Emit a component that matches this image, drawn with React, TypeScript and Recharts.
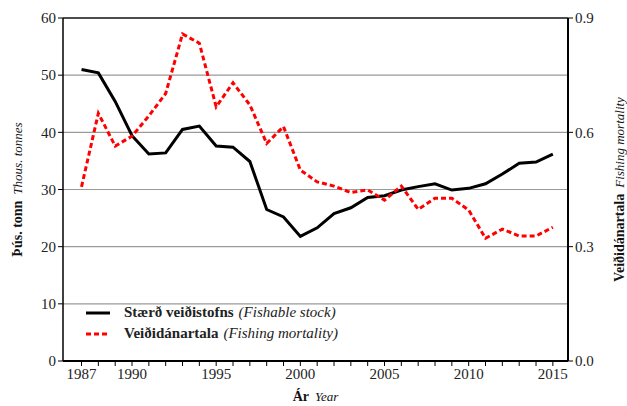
import { LineChart, Line, XAxis, YAxis, CartesianGrid, ReferenceLine, Legend, Label } from 'recharts';

const years = [
  1987, 1988, 1989, 1990, 1991, 1992, 1993, 1994, 1995, 1996, 1997, 1998, 1999, 2000, 2001,
  2002, 2003, 2004, 2005, 2006, 2007, 2008, 2009, 2010, 2011, 2012, 2013, 2014, 2015,
];

// fishable stock, thousand tonnes
const stock = [
  51.0, 50.4, 45.4, 39.4, 36.2, 36.4, 40.5, 41.1, 37.6, 37.4, 34.9, 26.5, 25.2, 21.8, 23.3,
  25.8, 26.8, 28.6, 28.9, 29.9, 30.5, 31.0, 29.9, 30.2, 31.0, 32.7, 34.6, 34.8, 36.2,
];

// fishing mortality
const mortality = [
  0.457, 0.65, 0.564, 0.59, 0.643, 0.702, 0.858, 0.834, 0.667, 0.73, 0.672, 0.571, 0.615, 0.501,
  0.47, 0.459, 0.442, 0.449, 0.422, 0.459, 0.398, 0.427, 0.427, 0.396, 0.322, 0.346, 0.328,
  0.328, 0.351,
];

const yearLabels = [1987, 1990, 1995, 2000, 2005, 2010, 2015];
const leftTicks = [0, 10, 20, 30, 40, 50, 60];
const rightTicks = [0, 0.3, 0.6, 0.9];

const seriesNames = [
  { is: 'Stærð veiðistofns', en: '(Fishable stock)', color: '#000000', dash: '' },
  { is: 'Veiðidánartala', en: '(Fishing mortality)', color: '#ff0000', dash: '5 3' },
];

const data = years.map((year, i) => ({ year, stock: stock[i], mortality: mortality[i] }));

const FONT = '"Liberation Serif", "DejaVu Serif", serif';
const tickStyle = { fontSize: 15, fill: '#222', fontFamily: FONT };

const AxisTitle = ({ x, y, bold, italic, rotate }: { x: number; y: number; bold: string; italic: string; rotate?: boolean }) => (
  <text
    x={x}
    y={y}
    textAnchor="middle"
    dominantBaseline="central"
    transform={rotate ? `rotate(-90 ${x} ${y})` : undefined}
    fontFamily={FONT}
    fill="#111"
  >
    <tspan fontWeight="bold" fontSize={14}>{bold}</tspan>
    <tspan fontStyle="italic" fontSize={13} dx={6}>{italic}</tspan>
  </text>
);

const renderLegend = () => (
  <div style={{ fontFamily: FONT, fontSize: 15, color: '#222', lineHeight: '21px' }}>
    {seriesNames.map((s) => (
      <div key={s.is} style={{ display: 'flex', alignItems: 'center' }}>
        <svg width={36} height={10} style={{ marginRight: 2 }}>
          <line x1={0} x2={24} y1={5} y2={5} stroke={s.color} strokeWidth={3} strokeDasharray={s.dash} />
        </svg>
        <b>{s.is}</b>
        <i style={{ marginLeft: 5 }}>{s.en}</i>
      </div>
    ))}
  </div>
);

export default function App() {
  return (
    <div style={{ position: 'absolute', left: 0, top: 0, width: 627, height: 406, background: '#fff' }}>
      <LineChart width={627} height={406} data={data} margin={{ top: 18, right: 0, bottom: 0, left: 0 }}>
        <CartesianGrid yAxisId="left" vertical={false} stroke="#9a9a9a" strokeWidth={1.2} />
        <XAxis
          dataKey="year"
          type="number"
          domain={[1985.9, 2015.9]}
          ticks={years}
          interval={0}
          tickFormatter={(v: number) => (yearLabels.includes(v) ? String(v) : '')}
          tick={tickStyle}
          tickSize={5}
          tickLine={{ stroke: '#000' }}
          axisLine={{ stroke: '#000', strokeWidth: 2 }}
          height={45}
        >
          <Label
            content={({ viewBox }: any) => (
              <AxisTitle x={viewBox.x + viewBox.width / 2} y={viewBox.y + 35} bold="Ár" italic="Year" />
            )}
          />
        </XAxis>
        <YAxis
          yAxisId="left"
          domain={[0, 60]}
          ticks={leftTicks}
          interval={0}
          tick={tickStyle}
          tickSize={5}
          tickLine={{ stroke: '#000' }}
          axisLine={{ stroke: '#000', strokeWidth: 1.5 }}
          width={63}
        >
          <Label
            content={({ viewBox }: any) => (
              <AxisTitle x={17} y={viewBox.y + viewBox.height / 2} bold="Þús. tonn" italic="Thous. tonnes" rotate />
            )}
          />
        </YAxis>
        <YAxis
          yAxisId="right"
          orientation="right"
          domain={[0, 0.9]}
          ticks={rightTicks}
          interval={0}
          tickFormatter={(v: number) => v.toFixed(1)}
          tick={tickStyle}
          tickSize={5}
          tickLine={{ stroke: '#000' }}
          axisLine={{ stroke: '#000', strokeWidth: 2 }}
          width={59}
        >
          <Label
            content={({ viewBox }: any) => (
              <AxisTitle x={619} y={viewBox.y + viewBox.height / 2} bold="Veiðidánartala" italic="Fishing mortality" rotate />
            )}
          />
        </YAxis>
        <ReferenceLine yAxisId="left" y={60} stroke="#222" strokeWidth={1.5} />
        <Line
          yAxisId="left"
          type="linear"
          dataKey="stock"
          stroke="#000"
          strokeWidth={3}
          dot={false}
          isAnimationActive={false}
        />
        <Line
          yAxisId="right"
          type="linear"
          dataKey="mortality"
          stroke="#ff0000"
          strokeWidth={3}
          strokeDasharray="5 3"
          dot={false}
          isAnimationActive={false}
        />
        <Legend
          layout="vertical"
          align="center"
          verticalAlign="middle"
          content={renderLegend}
          wrapperStyle={{ left: 86, top: 302, width: 320, height: 44 }}
        />
      </LineChart>
    </div>
  );
}
